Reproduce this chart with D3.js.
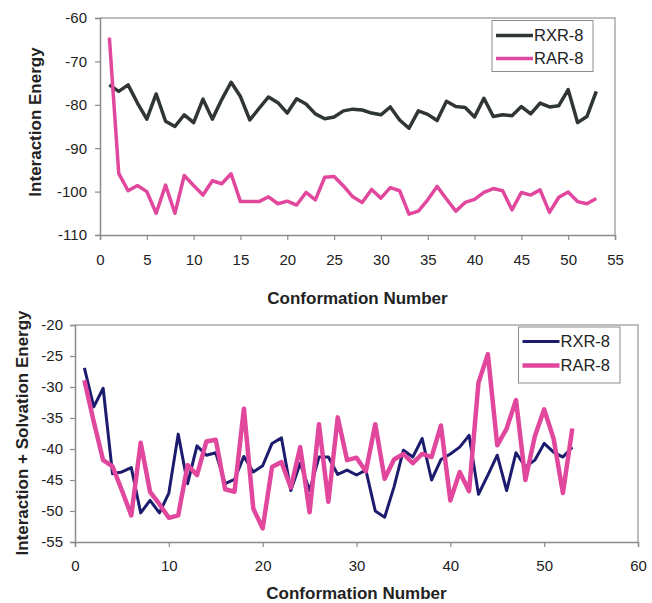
<!DOCTYPE html>
<html>
<head>
<meta charset="utf-8">
<script src="https://cdn.jsdelivr.net/npm/d3@7"></script>
<style>
  body { margin: 0; background: #fff; }
  svg text { font-family: "Liberation Sans", Arial, sans-serif; fill: #222; }
</style>
</head>
<body>
<svg id="chart" width="652" height="603"></svg>
<script>
// conformation numbers 1..53
const conformations = d3.range(1, 54)

// top panel: interaction energy
const rxrInteraction = [
  -75.4, -76.9, -75.4, -79.6, -83.3, -77.5, -83.8, -85.0, -82.3, -84.1,
  -78.7, -83.3, -78.8, -74.8, -78.1, -83.5, -80.8, -78.2, -79.5, -81.9,
  -78.6, -79.8, -82.1, -83.2, -82.8, -81.4, -81.0, -81.2, -81.9, -82.3,
  -80.5, -83.5, -85.4, -81.4, -82.2, -83.6, -79.2, -80.4, -80.6, -82.8,
  -78.5, -82.7, -82.3, -82.5, -80.4, -82.1, -79.6, -80.5, -80.2, -76.5,
  -84.1, -82.7, -76.9
]
const rarInteraction = [
  -64.5, -95.8, -99.8, -98.6, -100.0, -105.0, -98.5, -105.0, -96.3, -98.6,
  -100.8, -97.5, -98.2, -95.9, -102.3, -102.3, -102.3, -101.2, -102.8, -102.2,
  -103.1, -100.2, -101.9, -96.7, -96.5, -98.7, -101.2, -102.5, -99.5, -101.5,
  -99.1, -99.8, -105.2, -104.5, -101.9, -98.8, -101.7, -104.5, -102.5, -101.8,
  -100.2, -99.3, -99.8, -104.2, -100.2, -100.8, -99.6, -104.8, -101.3, -100.1,
  -102.3, -102.8, -101.6
]

// bottom panel: interaction + solvation energy
const rxrSolvation = [
  -26.9, -33.2, -30.2, -44.0, -43.7, -43.0, -50.3, -48.3, -50.3, -47.1,
  -37.6, -45.6, -39.5, -41.0, -40.6, -45.6, -44.9, -41.2, -43.7, -42.7,
  -39.1, -38.2, -46.7, -42.3, -46.7, -41.3, -41.3, -44.1, -43.4, -44.2,
  -43.4, -50.0, -51.0, -46.1, -40.2, -41.3, -38.3, -45.0, -41.7, -40.8,
  -39.7, -37.8, -47.3, -44.2, -41.0, -46.7, -40.6, -42.9, -41.8, -39.1,
  -40.5, -41.3, -39.7
]
const rarSolvation = [
  -28.9, -35.6, -41.8, -42.8, -46.7, -50.7, -39.0, -46.9, -48.9, -51.1,
  -50.7, -42.6, -44.2, -38.8, -38.5, -46.5, -46.9, -33.5, -49.6, -52.8,
  -42.9, -42.1, -46.2, -39.7, -50.2, -36.0, -48.5, -34.9, -41.8, -41.4,
  -43.6, -36.0, -44.8, -41.7, -40.8, -42.3, -40.8, -41.3, -36.2, -48.3,
  -43.7, -46.8, -29.3, -24.7, -39.4, -36.7, -32.1, -45.0, -38.0, -33.6,
  -38.3, -47.1, -36.7
]

const seriesNames = ['RXR-8', 'RAR-8']
const topTicksX = d3.range(0, 56, 5)
const topTicksY = d3.range(-110, -59, 10)
const bottomTicksX = d3.range(0, 61, 10)
const bottomTicksY = d3.range(-55, -19, 5)

const svg = d3.select('#chart')

// plain hyphen minus, like the original spreadsheet labels
const fmt = d => String(d)

// draws one panel: frame, axes, lines, legend
const drawPanel = (opt) => {
  const g = svg.append('g')
  const x = d3.scaleLinear().domain(opt.xDomain).range([opt.left, opt.right])
  const y = d3.scaleLinear().domain(opt.yDomain).range([opt.bottom, opt.top])

  // light frame on top and right
  g.append('path')
    .attr('d', `M${opt.left},${opt.top}H${opt.right}V${opt.bottom}`)
    .attr('fill', 'none')
    .attr('stroke', '#a9a9a9')
    .attr('stroke-width', 1.5)

  const xAxis = g.append('g')
    .attr('transform', `translate(0,${opt.bottom})`)
    .call(d3.axisBottom(x).tickValues(opt.xTicks).tickFormat(fmt)
      .tickSize(5).tickPadding(opt.xPad).tickSizeOuter(5))
  const yAxis = g.append('g')
    .attr('transform', `translate(${opt.left},0)`)
    .call(d3.axisLeft(y).tickValues(opt.yTicks).tickFormat(fmt)
      .tickSize(5).tickPadding(opt.yPad).tickSizeOuter(5))

  ;[xAxis, yAxis].forEach(a => {
    a.select('.domain').attr('stroke', '#8c8c8c').attr('stroke-width', 1.5)
    a.selectAll('.tick line').attr('stroke', '#8c8c8c').attr('stroke-width', 1.2)
    a.selectAll('text')
      .style('font-size', '15px')
      .attr('fill', '#222')
      .style('font-family', '"Liberation Sans", Arial, sans-serif')
  })

  const line = d3.line().x((d, i) => x(conformations[i])).y(d => y(d))

  opt.series.forEach(s => {
    g.append('path')
      .datum(s.values)
      .attr('d', line)
      .attr('fill', 'none')
      .attr('stroke', s.color)
      .attr('stroke-width', s.width)
      .attr('stroke-linejoin', 'round')
  })

  // axis titles
  g.append('text')
    .attr('x', (opt.left + opt.right) / 2)
    .attr('y', opt.xTitleY)
    .attr('text-anchor', 'middle')
    .style('font-size', '17px')
    .style('font-weight', 'bold')
    .text('Conformation Number')
  g.append('text')
    .attr('transform', `translate(${opt.yTitleX},${opt.yTitleMid}) rotate(-90)`)
    .attr('text-anchor', 'middle')
    .style('font-size', '17px')
    .style('font-weight', 'bold')
    .text(opt.yTitle)

  // legend
  const lg = opt.legend
  g.append('rect')
    .attr('x', lg.x).attr('y', lg.y)
    .attr('width', lg.w).attr('height', lg.h)
    .attr('fill', '#fff')
    .attr('stroke', '#8c8c8c')
    .attr('stroke-width', 1)
  opt.series.forEach((s, i) => {
    const cy = lg.y + lg.rowY[i]
    g.append('line')
      .attr('x1', lg.x + 4).attr('x2', lg.x + 41)
      .attr('y1', cy).attr('y2', cy)
      .attr('stroke', s.color)
      .attr('stroke-width', s.width)
    g.append('text')
      .attr('x', lg.x + 42)
      .attr('y', cy)
      .attr('dy', '0.36em')
      .style('font-size', '16.5px')
      .text(seriesNames[i])
  })
}

drawPanel({
  left: 100, right: 615, top: 18, bottom: 235,
  xDomain: [0, 55], yDomain: [-110, -60],
  xTicks: topTicksX, yTicks: topTicksY,
  xPad: 14, yPad: 8,
  xTitleY: 304, yTitleX: 41, yTitleMid: 122,
  yTitle: 'Interaction Energy',
  series: [
    {values: rxrInteraction, color: '#303535', width: 3.5},
    {values: rarInteraction, color: '#e0479d', width: 3.5}
  ],
  legend: {x: 492, y: 20.5, w: 101, h: 51, rowY: [15, 38]}
})

drawPanel({
  left: 75, right: 638, top: 325, bottom: 542,
  xDomain: [0, 60], yDomain: [-55, -20],
  xTicks: bottomTicksX, yTicks: bottomTicksY,
  xPad: 13, yPad: 7,
  xTitleY: 599, yTitleX: 28, yTitleMid: 433,
  yTitle: 'Interaction + Solvation Energy',
  series: [
    {values: rxrSolvation, color: '#1c1c6e', width: 3},
    {values: rarSolvation, color: '#e0479d', width: 4.5}
  ],
  legend: {x: 518.5, y: 327, w: 101.5, h: 56, rowY: [14.5, 38.5]}
})
</script>
</body>
</html>
